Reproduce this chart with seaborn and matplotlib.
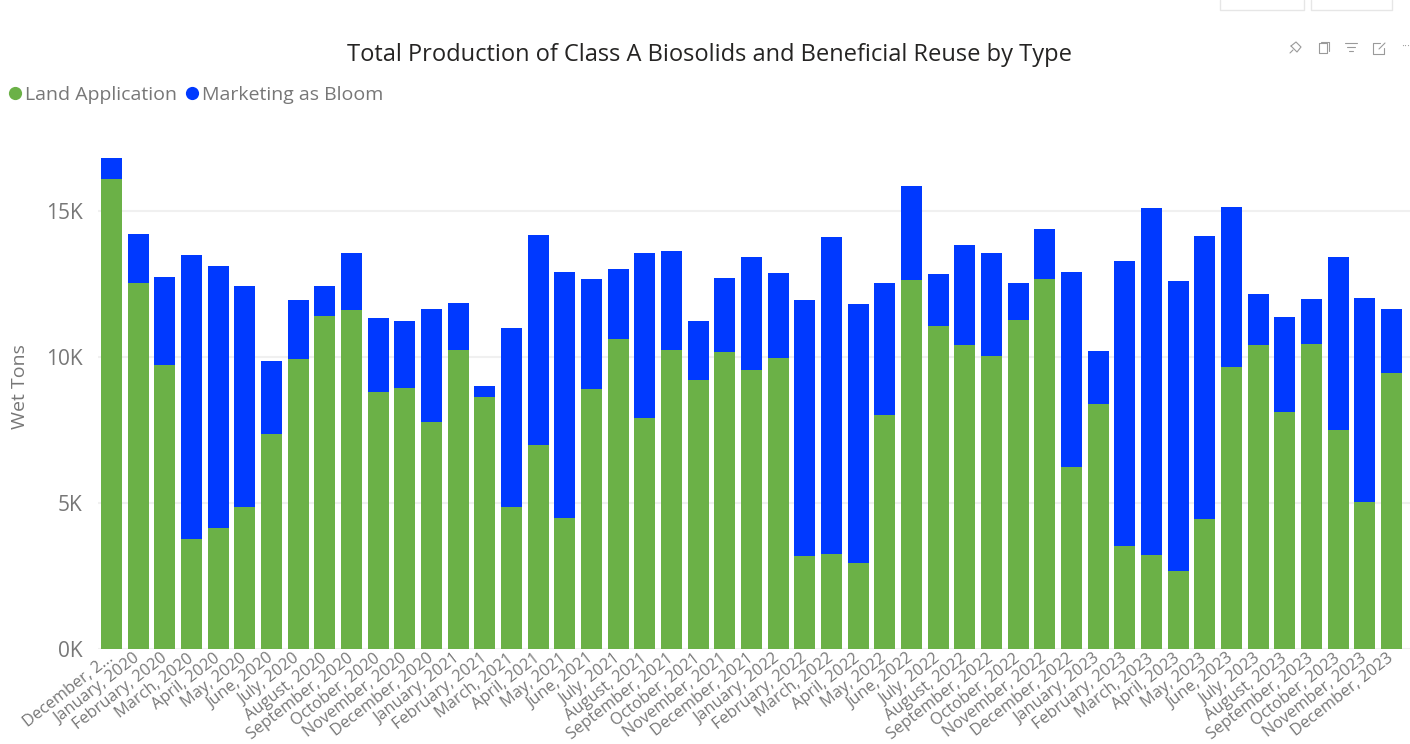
import matplotlib
matplotlib.use("Agg")
import matplotlib.pyplot as plt
from matplotlib.lines import Line2D
from matplotlib.transforms import ScaledTranslation
import numpy as np
import pandas as pd
import seaborn as sns

months = ["December, 2...", "January, 2020", "February, 2020", "March, 2020", "April, 2020", "May, 2020",
          "June, 2020", "July, 2020", "August, 2020", "September, 2020", "October, 2020", "November, 2020",
          "December, 2020", "January, 2021", "February, 2021", "March, 2021", "April, 2021", "May, 2021",
          "June, 2021", "July, 2021", "August, 2021", "September, 2021", "October, 2021", "November, 2021",
          "December, 2021", "January, 2022", "February, 2022", "March, 2022", "April, 2022", "May, 2022",
          "June, 2022", "July, 2022", "August, 2022", "September, 2022", "October, 2022", "November, 2022",
          "December, 2022", "January, 2023", "February, 2023", "March, 2023", "April, 2023", "May, 2023",
          "June, 2023", "July, 2023", "August, 2023", "September, 2023", "October, 2023", "November, 2023",
          "December, 2023"]
land = [16.1, 12.55, 9.72, 3.77, 4.14, 4.85, 7.36, 9.93, 11.4, 11.6, 8.8, 8.93, 7.77, 10.24, 8.63, 4.86,
        7.0, 4.5, 8.9, 10.6, 7.9, 10.23, 9.2, 10.16, 9.55, 9.97, 3.18, 3.27, 2.95, 8.0, 12.65, 11.05,
        10.4, 10.05, 11.27, 12.67, 6.25, 8.38, 3.52, 3.23, 2.67, 4.45, 9.65, 10.4, 8.1, 10.45, 7.5, 5.03, 9.45]
total = [16.8, 14.2, 12.74, 13.5, 13.13, 12.42, 9.86, 11.95, 12.43, 13.56, 11.33, 11.23, 11.63, 11.85, 9.0, 11.0,
         14.17, 12.9, 12.68, 13.0, 13.56, 13.64, 11.22, 12.7, 13.42, 12.87, 11.95, 14.12, 11.8, 12.52, 15.85, 12.83,
         13.85, 13.57, 12.53, 14.38, 12.9, 10.22, 13.3, 15.1, 12.6, 14.13, 15.13, 12.15, 11.36, 11.98, 13.42, 12.03, 11.66]
series_names = ["Land Application", "Marketing as Bloom"]
colors = ["#6BB147", "#0039FF"]
yticks = [0, 5, 10, 15]
ytick_labels = ["0K", "5K", "10K", "15K"]

W, H = 1410, 744
FONT = ["Open Sans", "DejaVu Sans"]
sns.set_theme(style="white")
plt.rcParams["font.family"] = FONT
GREY = "#777777"

df = pd.DataFrame({"month": months, "land": land, "total": total})
df["bloom"] = df["total"] - df["land"]

fig = plt.figure(figsize=(W / 100, H / 100), dpi=100, facecolor="white")
ax = fig.add_axes([98 / W, 1 - 649 / H, (W - 98) / W, (649 - 130) / H])
sns.barplot(data=df, x="month", y="land", color=colors[0], saturation=1, width=0.79, linewidth=0, ax=ax, zorder=3)
sns.barplot(data=df, x="month", y="bloom", bottom=df["land"], color=colors[1], saturation=1, width=0.79, linewidth=0, ax=ax, zorder=3)

ax.set_xlim(-0.51, 48.69)
ax.set_ylim(0, (649 - 130) / 29.2)
ax.set_yticks(yticks, ytick_labels)
ax.yaxis.grid(True, color="#F0F0F0", lw=1.5, zorder=0)
ax.set_axisbelow(True)
sns.despine(ax=ax, left=True, bottom=True, top=True, right=True)
ax.set_xlabel("")
ax.set_ylabel("Wet Tons", fontsize=14, color=GREY, labelpad=0)
ax.yaxis.set_label_coords(-69 / (W - 98), 0.505)
ax.tick_params(axis="y", length=0, labelsize=15, labelcolor=GREY, pad=11)
ax.tick_params(axis="x", length=0, pad=1)
ax.set_xticks(range(len(months)), months, rotation=38, ha="right", rotation_mode="anchor",
              fontsize=11.8, color=GREY)
shift = ScaledTranslation(-5 / 100, 0, fig.dpi_scale_trans)
for lab in ax.get_xticklabels():
    lab.set_transform(lab.get_transform() + shift)

fig.text(710 / W, 1 - 55 / H, "Total Production of Class A Biosolids and Beneficial Reuse by Type",
         ha="center", va="center", fontsize=17.05, color="#252423")

# legend
for xp, name, c in zip([15, 192], series_names, colors):
    fig.add_artist(Line2D([xp / W], [1 - 93 / H], marker="o", ms=9.5, color=c, mew=0, ls="", transform=fig.transFigure))
    fig.text((xp + 10) / W, 1 - 95 / H, name, ha="left", va="center", fontsize=14.0, color=GREY)

# host page chrome: faint button outlines and visual header icons
for x0, x1 in [(1220, 1304), (1311, 1392)]:
    fig.add_artist(Line2D([x0 / W, x0 / W, x1 / W, x1 / W], [1, 1 - 10 / H, 1 - 10 / H, 1],
                          color="#E6E6E6", lw=1, transform=fig.transFigure))
ic = "#9A9A9A"
def seg(xs, ys):
    fig.add_artist(Line2D([x / W for x in xs], [1 - y / H for y in ys], color=ic, lw=0.8, transform=fig.transFigure))
seg([1291, 1296, 1301, 1297, 1291], [46, 42, 47, 52, 46]); seg([1290, 1293], [53, 50])
seg([1319, 1319, 1327, 1327, 1319], [43, 53, 53, 43, 43]); seg([1321, 1329, 1329], [42, 42, 51])
seg([1345, 1357], [43, 43]); seg([1347, 1355], [47, 47]); seg([1349, 1353], [51, 51])
seg([1380, 1373, 1373, 1384, 1384], [43, 43, 54, 54, 48]); seg([1379, 1385], [49, 43])
fig.text(1406 / W, 1 - 47 / H, "···", ha="center", va="center", fontsize=8, color=ic)

fig.savefig("out.png", dpi=100)
